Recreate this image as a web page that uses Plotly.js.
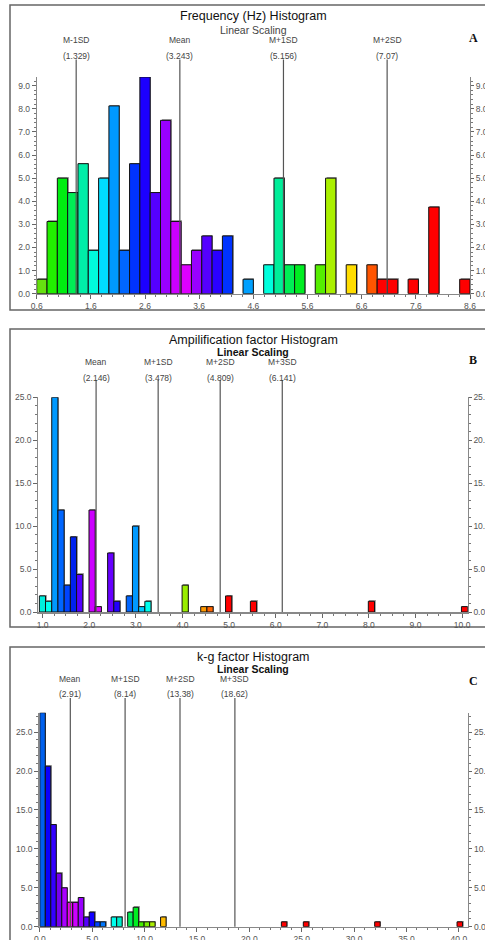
<!DOCTYPE html>
<html><head><meta charset="utf-8">
<script src="https://cdn.plot.ly/plotly-3.0.1.min.js"></script>
<style>html,body{margin:0;padding:0;background:#fff;overflow:hidden}#chart{width:485px;height:940px}</style>
</head><body><div id="chart"></div>
<script>
// ---------- DATA ----------
// Panel A : Frequency (Hz)
const titleA = 'Frequency (Hz) Histogram';
const binStartA = 0.6, binWidthA = 8 / 42;
const binsA = [0,1,2,3,4,5,6,7,8,9,10,11,12,13,14,15,16,17,18,20,22,23,24,25,27,28,30,32,33,34,36,38,41];
const heightsA = [0.625,3.125,5.0,4.375,5.625,1.875,5.0,8.125,1.875,5.625,9.375,4.375,7.5,3.125,1.25,1.875,2.5,1.875,2.5,0.625,1.25,5.0,1.25,1.25,1.25,5.0,1.25,1.25,0.625,0.625,0.625,3.75,0.625];
const colorsA = ['#66e010','#22ee00','#00ee11','#00ee55','#00eea8','#00fadc','#00dcff','#0099ff','#0066ff','#0033ff','#1c00ff','#5500ff','#9900ff','#cc00ff','#dd00ff','#9900ff','#5500ff','#2a00ff','#0033ff','#00a0ff','#00ffdd','#00ee99','#00ee55','#00ee22','#55ee00','#aaf000','#ffdd00','#ff5500','#ff0000','#ff0000','#ff0000','#ff0000','#ff0000'];
const lineLabelsA = ['M-1SD','Mean','M+1SD','M+2SD'];
const lineValuesA = [1.329, 3.243, 5.156, 7.07];
const lineTextA = ['1.329','3.243','5.156','7.07'];

// Panel B : Amplification factor
const titleB = 'Ampilification factor Histogram';
const binStartB = 0.928, binWidthB = 0.1332;
const binsB = [0,1,2,3,4,5,6,8,9,11,12,14,15,16,17,23,26,27,30,34,53,68];
const heightsB = [1.875,1.25,25,11.875,3.125,8.75,4.375,11.875,0.625,6.875,1.25,1.875,10,0.625,1.25,3.125,0.625,0.625,1.875,1.25,1.25,0.625];
const colorsB = ['#00eedd','#00ffee','#0099ff','#0066ff','#0044ff','#0022ee','#5500ff','#cc00ff','#dd00ff','#6600ff','#2200ff','#0066ff','#0099ff','#00ccff','#00ffee','#99ee00','#ff9900','#ff6600','#ff0000','#ff0000','#ff0000','#ff0000'];
const lineLabelsB = ['Mean','M+1SD','M+2SD','M+3SD'];
const lineValuesB = [2.146, 3.478, 4.809, 6.141];
const lineTextB = ['2.146','3.478','4.809','6.141'];

// Panel C : k-g factor
const titleC = 'k-g factor Histogram';
const binStartC = 0.0, binWidthC = 0.524;
const binsC = [0,1,2,3,4,5,6,7,8,9,10,11,13,14,16,17,18,19,20,22,44,48,61,76];
const heightsC = [27.5,20.625,13.125,6.875,5,3.125,3.125,3.75,1.25,1.875,0.625,0.625,1.25,1.25,1.875,2.5,0.625,0.625,0.625,1.25,0.625,0.625,0.625,0.625];
const colorsC = ['#0060ee','#0a00ff','#3300ff','#7700ee','#aa00ff','#ee00ee','#cc00ff','#9900ff','#5500ff','#1100ff','#0044ff','#0077ff','#00ffee','#00eecc','#00ee55','#00ee22','#44ee00','#77ee00','#aaee00','#ffbb00','#ff0000','#ff0000','#ff0000','#ff0000'];
const lineLabelsC = ['Mean','M+1SD','M+2SD','M+3SD'];
const lineValuesC = [2.91, 8.14, 13.38, 18.62];
const lineTextC = ['2.91','8.14','13.38','18.62'];

// ---------- LAYOUT HELPERS ----------
const W = 485, H = 940;
const px = v => v / W;
const py = v => 1 - v / H;

const panels = [
  {title:titleA, sub:'Linear Scaling', subBold:false, letter:'A',
   start:binStartA, w:binWidthA, bins:binsA, h:heightsA, c:colorsA,
   lab:lineLabelsA, val:lineValuesA, txt:lineTextA,
   xr:[0.6, 8.6], xt0:0.6, xdt:1, xmin:0.2, ymax:9.375, ydt:1, ymin:0.2,
   box:[10,5,310], plot:[36.7,470,77,293.7], tY:16, sY:30, nY:40, vY:55.7, lY:59.5, letY:38},
  {title:titleB, sub:'Linear Scaling', subBold:true, letter:'B',
   start:binStartB, w:binWidthB, bins:binsB, h:heightsB, c:colorsB,
   lab:lineLabelsB, val:lineValuesB, txt:lineTextB,
   xr:[0.906, 10.12], xt0:0, xdt:1, xmin:0.25, ymax:25, ydt:5, ymin:1,
   box:[10,329,627], plot:[38.3,467.7,397.3,612], tY:340, sY:352, nY:362.3, vY:377.7, lY:380, letY:360},
  {title:titleC, sub:'Linear Scaling', subBold:true, letter:'C',
   start:binStartC, w:binWidthC, bins:binsC, h:heightsC, c:colorsC,
   lab:lineLabelsC, val:lineValuesC, txt:lineTextC,
   xr:[-0.05, 40.9], xt0:0, xdt:5, xmin:1, ymax:27.5, ydt:5, ymin:1,
   box:[10,647,960], plot:[39.3,468.3,712.7,926.7], tY:656.7, sY:669, nY:678.7, vY:694.3, lY:698, letY:681}
];

const data = [], shapes = [], annotations = [];
const layout = {
  width: W, height: H, margin: {l:0, r:0, t:0, b:0},
  paper_bgcolor: '#fff', plot_bgcolor: 'rgba(0,0,0,0)',
  showlegend: false, barmode: 'overlay', bargap: 0,
  font: {family: 'Liberation Sans, Arial, sans-serif', size: 9, color: '#444'}
};

const tickFont = {family:'Liberation Sans, Arial, sans-serif', size:8.5, color:'#555'};

panels.forEach((p, k) => {
  const xa = k === 0 ? 'x' : 'x' + (k + 1);
  const yl = 'y' + (2 * k + 1 === 1 ? '' : (2 * k + 1));
  const yr = 'y' + (2 * k + 2);
  const xKey = 'xaxis' + (k === 0 ? '' : k + 1);
  const ylKey = 'yaxis' + (2 * k + 1 === 1 ? '' : 2 * k + 1);
  const yrKey = 'yaxis' + (2 * k + 2);
  const [x0p, x1p, ytp, ybp] = p.plot;

  // 1-pixel drop shadow (up/right) converted to data units
  const dxu = 1 / ((x1p - x0p) / (p.xr[1] - p.xr[0]));
  const dyu = 1 / ((ybp - ytp) / p.ymax);
  data.push({
    type: 'bar', xaxis: xa, yaxis: yl,
    x: p.bins.map(i => p.start + (i + 0.5) * p.w + dxu),
    y: p.h.map(v => v + dyu), width: p.w,
    marker: {color: '#a8a8a8', line: {width: 0}},
    hoverinfo: 'skip', cliponaxis: false
  });
  data.push({
    type: 'bar', xaxis: xa, yaxis: yl,
    x: p.bins.map(i => p.start + (i + 0.5) * p.w),
    y: p.h, width: p.w,
    marker: {color: p.c, line: {color: '#111', width: 1}},
    hoverinfo: 'x+y', cliponaxis: false
  });
  data.push({
    type: 'scatter', mode: 'markers', xaxis: xa, yaxis: yr,
    x: [p.xr[0]], y: [0], marker: {opacity: 0}, hoverinfo: 'skip'
  });

  layout[xKey] = {
    domain: [px(x0p), px(x1p)], range: p.xr, anchor: yl,
    showgrid: false, zeroline: false, showline: true, linecolor: '#888', linewidth: 1.5,
    ticks: 'outside', ticklen: 4, tickcolor: '#666', tickwidth: 1,
    tick0: p.xt0, dtick: p.xdt, tickformat: '.1f', tickfont: tickFont,
    minor: {dtick: p.xmin, tick0: p.xt0, ticks: 'outside', ticklen: 2, tickcolor: '#777'},
    fixedrange: true
  };
  const ycommon = {
    domain: [py(ybp), py(ytp)], range: [0, p.ymax],
    showgrid: false, zeroline: false, showline: true, linecolor: '#888', linewidth: 1,
    ticks: 'outside', ticklen: 4, tickcolor: '#666', tickwidth: 1,
    tick0: 0, dtick: p.ydt, tickformat: '.1f', tickfont: tickFont,
    minor: {dtick: p.ymin, tick0: 0, ticks: 'outside', ticklen: 2, tickcolor: '#777'},
    fixedrange: true
  };
  layout[ylKey] = Object.assign({}, ycommon, {anchor: xa, side: 'left'});
  layout[yrKey] = Object.assign({}, ycommon, {anchor: xa, side: 'right', overlaying: yl, ticklen: 3});

  // panel border
  shapes.push({type: 'rect', xref: 'paper', yref: 'paper',
    x0: px(p.box[0]), x1: px(W + 20), y0: py(p.box[2]), y1: py(p.box[1]),
    line: {color: '#666', width: 1.5}, fillcolor: 'rgba(0,0,0,0)', layer: 'below'});

  // SD lines + labels
  p.val.forEach((v, j) => {
    shapes.push({type: 'line', xref: xa, yref: 'paper', x0: v, x1: v,
      y0: py(ybp), y1: py(p.lY), line: {color: '#555', width: 1.2}});
    annotations.push({xref: xa, yref: 'paper', x: v, y: py(p.nY), text: p.lab[j],
      showarrow: false, xanchor: 'center', yanchor: 'middle',
      font: {family: 'Liberation Sans, Arial, sans-serif', size: 8.5, color: '#444'}});
    annotations.push({xref: xa, yref: 'paper', x: v, y: py(p.vY), text: '(' + p.txt[j] + ')',
      showarrow: false, xanchor: 'center', yanchor: 'middle',
      font: {family: 'Liberation Sans, Arial, sans-serif', size: 8.5, color: '#444'}});
  });

  // titles
  annotations.push({xref: 'paper', yref: 'paper', x: px(253), y: py(p.tY), text: p.title,
    showarrow: false, xanchor: 'center', yanchor: 'middle',
    font: {family: 'Liberation Sans, Arial, sans-serif', size: 12.5, color: '#111'}});
  annotations.push({xref: 'paper', yref: 'paper', x: px(253), y: py(p.sY),
    text: p.subBold ? '<b>' + p.sub + '</b>' : p.sub,
    showarrow: false, xanchor: 'center', yanchor: 'middle',
    font: {family: 'Liberation Sans, Arial, sans-serif', size: 10.5, color: p.subBold ? '#111' : '#444'}});
  annotations.push({xref: 'paper', yref: 'paper', x: px(473), y: py(p.letY), text: '<b>' + p.letter + '</b>',
    showarrow: false, xanchor: 'center', yanchor: 'middle',
    font: {family: 'Liberation Serif, Times New Roman, serif', size: 12, color: '#111'}});
});

layout.shapes = shapes;
layout.annotations = annotations;

Plotly.newPlot('chart', data, layout, {staticPlot: true, displayModeBar: false});
</script>
</body></html>
